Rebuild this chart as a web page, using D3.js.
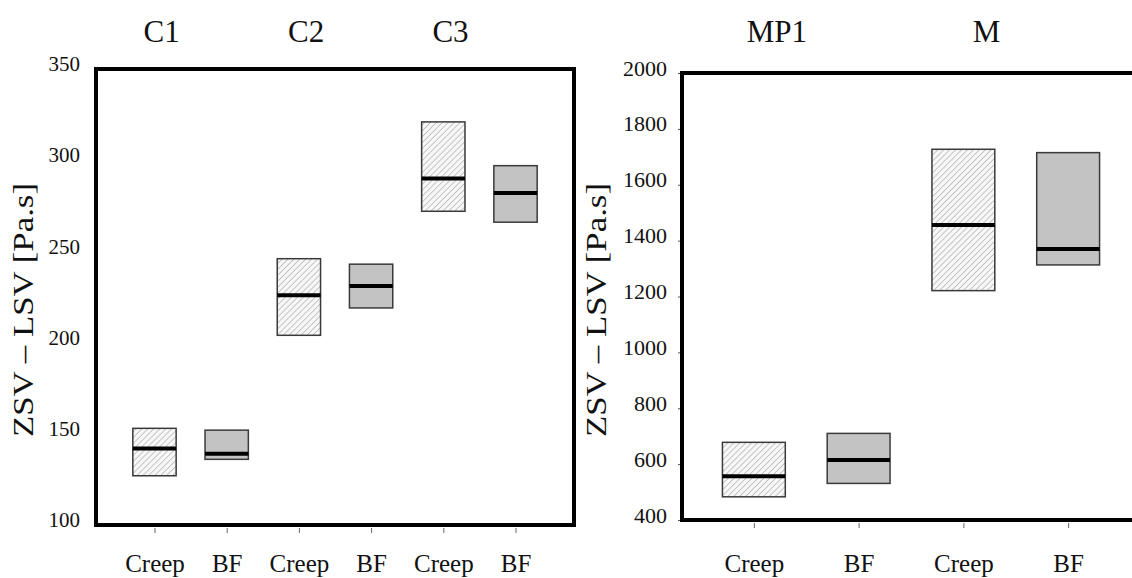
<!DOCTYPE html>
<html>
<head>
<meta charset="utf-8">
<script src="https://cdn.jsdelivr.net/npm/d3@7"></script>
<style>
  html, body { margin: 0; padding: 0; background: #fff; }
  svg { display: block; }
  text { font-family: "Liberation Serif", "Times New Roman", serif; fill: #111; }
</style>
</head>
<body>
<svg id="chart" width="1132" height="578"></svg>
<script>
// Methods compared within each material
const methods = ["Creep", "BF"];

// Left panel: C1, C2, C3 (ZSV - LSV, Pa.s) — one entry per material/method pair
const leftGroups = ["C1", "C2", "C3"];
const leftLow    = [127, 136, 204, 219, 272, 266];
const leftMedian = [142, 139, 226, 231, 290, 282];
const leftHigh   = [153, 152, 246, 243, 321, 297];
const leftTicks  = [100, 150, 200, 250, 300, 350];

// Right panel: MP1, M
const rightGroups = ["MP1", "M"];
const rightLow    = [483, 531, 1221, 1313];
const rightMedian = [557, 615, 1456, 1370];
const rightHigh   = [678, 710, 1727, 1715];
const rightTicks  = [400, 600, 800, 1000, 1200, 1400, 1600, 1800, 2000];

const yLabel = "ZSV \u2013 LSV [Pa.s]";

const svg = d3.select("#chart");

// Diagonal hatching for the Creep boxes
const defs = svg.append("defs");
const pat = defs.append("pattern")
  .attr("id", "hatch")
  .attr("patternUnits", "userSpaceOnUse")
  .attr("width", 4.2).attr("height", 4.2)
  .attr("patternTransform", "rotate(45)");
pat.append("rect").attr("width", 4.2).attr("height", 4.2).attr("fill", "#f7f7f7");
pat.append("line")
  .attr("x1", 0).attr("y1", 0).attr("x2", 0).attr("y2", 4.2)
  .attr("stroke", "#9c9c9c").attr("stroke-width", 1.1);

function buildRows(groups, low, median, high) {
  const rows = [];
  groups.forEach((g, gi) => {
    methods.forEach((m, mi) => {
      const i = gi * methods.length + mi;
      rows.push({ group: g, method: m, key: g + "|" + m, low: low[i], median: median[i], high: high[i] });
    });
  });
  return rows;
}

function drawPanel(cfg) {
  const rows = buildRows(cfg.groups, cfg.low, cfg.median, cfg.high);
  const x = d3.scalePoint().domain(rows.map(d => d.key))
    .range([cfg.left, cfg.right]).padding(cfg.pad);
  const y = d3.scaleLinear().domain(cfg.domain).range([cfg.bottom, cfg.top]);
  const bw = x.step() * 0.6;
  const g = svg.append("g");

  // y axis labels (and optional ticks)
  const yAxis = d3.axisLeft(y).tickValues(cfg.ticks).tickSize(cfg.yTick)
    .tickPadding(cfg.yPad).tickFormat(d3.format("d"));
  const ya = g.append("g").attr("transform", `translate(${cfg.left},0)`).call(yAxis);
  ya.attr("font-family", null);
  ya.select(".domain").remove();
  ya.selectAll(".tick line").attr("stroke", "#555").attr("stroke-width", 1);
  ya.selectAll(".tick text")
    .attr("dy", "0.32em")
    .attr("y", -5)
    .style("font-size", cfg.tickFont + "px")
    .attr("fill", "#111");

  // x axis: method labels under each box
  const xAxis = d3.axisBottom(x).tickSize(5).tickPadding(0).tickFormat(k => k.split("|")[1]);
  const xa = g.append("g").attr("transform", `translate(0,${cfg.bottom})`).call(xAxis);
  xa.attr("font-family", null);
  xa.select(".domain").remove();
  xa.selectAll(".tick line").attr("stroke", "#666").attr("stroke-width", 1).attr("y1", 3).attr("y2", 8);
  xa.selectAll(".tick text")
    .attr("y", 572 - cfg.bottom).attr("dy", 0)
    .style("font-size", "25px")
    .attr("fill", "#111");

  // boxes
  const boxes = g.append("g").selectAll("g").data(rows).join("g");
  boxes.append("rect")
    .attr("x", d => x(d.key) - bw / 2)
    .attr("width", bw)
    .attr("y", d => y(d.high))
    .attr("height", d => y(d.low) - y(d.high))
    .attr("fill", d => d.method === "Creep" ? "url(#hatch)" : "#c3c3c3")
    .attr("stroke", "#3a3a3a")
    .attr("stroke-width", 1.5);
  boxes.append("line")
    .attr("x1", d => x(d.key) - bw / 2)
    .attr("x2", d => x(d.key) + bw / 2)
    .attr("y1", d => y(d.median))
    .attr("y2", d => y(d.median))
    .attr("stroke", "#000")
    .attr("stroke-width", 4);

  // frame
  g.append("rect")
    .attr("x", cfg.left).attr("y", cfg.top)
    .attr("width", cfg.right - cfg.left).attr("height", cfg.bottom - cfg.top)
    .attr("fill", "none").attr("stroke", "#000").attr("stroke-width", 4);

  // material titles above each pair
  g.selectAll("text.title").data(cfg.groups).join("text")
    .attr("class", "title")
    .attr("x", gName => {
      const a = x(gName + "|" + methods[0]), b = x(gName + "|" + methods[1]);
      return (a + b) / 2 - cfg.titleShift * x.step();
    })
    .attr("y", 42)
    .attr("text-anchor", "middle")
    .style("font-size", "31px")
    .text(d => d);

  // y axis title
  g.append("text")
    .attr("transform", `translate(${cfg.labelX},${cfg.labelY}) rotate(-90)`)
    .attr("text-anchor", "middle")
    .attr("textLength", 254)
    .attr("lengthAdjust", "spacingAndGlyphs")
    .style("font-size", "30px")
    .text(yLabel);
}

drawPanel({
  groups: leftGroups, low: leftLow, median: leftMedian, high: leftHigh,
  ticks: leftTicks, domain: [100, 350],
  left: 96, right: 574, top: 69, bottom: 525, pad: 0.81,
  yTick: 0, yPad: 16, tickFont: 21, titleShift: 0.4,
  labelX: 33, labelY: 310
});

drawPanel({
  groups: rightGroups, low: rightLow, median: rightMedian, high: rightHigh,
  ticks: rightTicks, domain: [400, 2000],
  left: 682, right: 1140, top: 73, bottom: 520, pad: 0.686,
  yTick: 4, yPad: 11, tickFont: 22, titleShift: 0.28,
  labelX: 606, labelY: 310
});
</script>
</body>
</html>
